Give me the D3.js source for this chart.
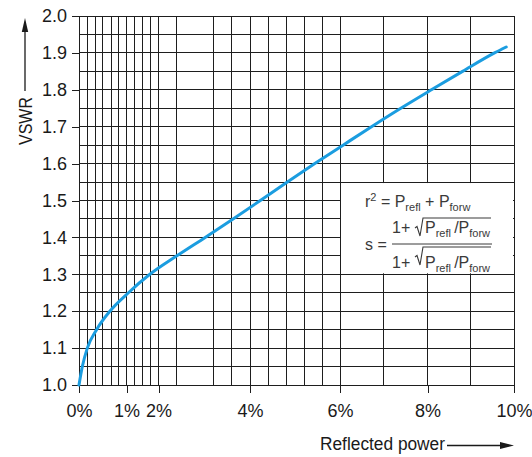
<!DOCTYPE html>
<html>
<head>
<meta charset="utf-8">
<script src="https://cdn.jsdelivr.net/npm/d3@7"></script>
<style>
  body { margin: 0; background: #fff; }
  svg { display: block; }
</style>
</head>
<body>
<svg width="532" height="457"></svg>
<script>
// reflected power (%) where the curve crosses each VSWR grid line
var powerPct = [0, 0.07, 0.175, 0.37, 0.65, 1.06, 1.73, 2.4, 3.02, 3.63, 4.23, 4.83, 5.44, 6.07, 6.72, 7.39, 8.09, 8.81, 9.55, 9.82];
var vswr = [1.0, 1.05, 1.1, 1.15, 1.2, 1.25, 1.3, 1.35, 1.4, 1.45, 1.5, 1.55, 1.6, 1.65, 1.7, 1.75, 1.8, 1.85, 1.9, 1.916];

var xTicks = [0, 1, 2, 4, 6, 8, 10];
var xTickLabels = ['0%', '1%', '2%', '4%', '6%', '8%', '10%'];
var xGrid = [0, 0.17, 0.34, 0.5, 0.68, 0.84, 1, 1.25, 1.5, 1.75, 2, 2.4, 3.2, 3.6, 4, 4.4, 4.8, 5.2, 5.6, 6, 7, 8, 9, 10];

var yTicks = [1.0, 1.1, 1.2, 1.3, 1.4, 1.5, 1.6, 1.7, 1.8, 1.9, 2.0];
var yTickLabels = ['1.0', '1.1', '1.2', '1.3', '1.4', '1.5', '1.6', '1.7', '1.8', '1.9', '2.0'];
var yGrid = [1.0, 1.05, 1.1, 1.15, 1.2, 1.25, 1.3, 1.35, 1.4, 1.45, 1.5, 1.55, 1.6, 1.65, 1.7, 1.75, 1.8, 1.85, 1.9, 1.95, 2.0];

// formula box sits over the grid between these values
var boxPct = [6, 10];
var boxVswr = [1.3, 1.55];

var app = {
    left: 79,
    top: 16,
    width: 435,
    height: 369,
    font: "'Liberation Sans', Arial, sans-serif",
    ink: '#1a1a1a',
    blue: '#1b9de0'
}

var svg = d3.select('svg');
var g = svg.append('g').attr('transform', 'translate(' + app.left + ',' + app.top + ')');

// x axis is stretched near zero, so a piecewise linear scale
var x = d3.scaleLinear()
    .domain(xTicks)
    .range([0, 47.5, 79.5, 171, 261, 348.5, app.width]);

var y = d3.scaleLinear()
    .domain([1, 2])
    .range([app.height, 0]);

function drawGrid() {
    g.append('g').selectAll('line')
        .data(xGrid)
        .enter().append('line')
        .attr('x1', function(d) { return x(d) })
        .attr('x2', function(d) { return x(d) })
        .attr('y1', 0)
        .attr('y2', app.height);

    g.append('g').selectAll('line')
        .data(yGrid)
        .enter().append('line')
        .attr('x1', 0)
        .attr('x2', app.width)
        .attr('y1', function(d) { return y(d) })
        .attr('y2', function(d) { return y(d) });

    g.selectAll('line')
        .style('stroke', '#1e1e1e')
        .style('stroke-width', '1px')
        .style('shape-rendering', 'crispEdges');
}

function drawAxes() {
    var yAxis = d3.axisLeft(y)
        .tickValues(yTicks)
        .tickSize(7)
        .tickPadding(5)
        .tickFormat(function(d, i) { return yTickLabels[i] });

    var xAxis = d3.axisBottom(x)
        .tickValues(xTicks)
        .tickSize(8)
        .tickPadding(11)
        .tickFormat(function(d, i) { return xTickLabels[i] });

    var ya = g.append('g').call(yAxis);
    var xa = g.append('g').attr('transform', 'translate(0,' + app.height + ')').call(xAxis);

    [ya, xa].forEach(function(a) {
        a.select('.domain').remove();
        a.selectAll('line').style('stroke', '#1e1e1e').style('shape-rendering', 'crispEdges');
        a.selectAll('text')
            .style('font-family', app.font)
            .style('font-size', '18px')
            .style('fill', app.ink);
    });
}

function drawFormulaBox() {
    g.append('rect')
        .attr('x', x(boxPct[0]) + 1)
        .attr('y', y(boxVswr[1]) + 1)
        .attr('width', x(boxPct[1]) - x(boxPct[0]) - 2)
        .attr('height', y(boxVswr[0]) - y(boxVswr[1]) - 2)
        .style('fill', '#fff');
}

function drawCurve() {
    var line = d3.line()
        .x(function(d) { return x(d[0]) })
        .y(function(d) { return y(d[1]) })
        .curve(d3.curveMonotoneX);

    g.append('path')
        .datum(d3.zip(powerPct, vswr))
        .attr('d', line)
        .style('fill', 'none')
        .style('stroke', app.blue)
        .style('stroke-width', '3px')
        .style('stroke-linecap', 'round');
}

// text runs with sub/superscripts
function addRun(parent, px, py, parts) {
    var t = parent.append('text')
        .attr('x', px)
        .attr('y', py)
        .style('font-family', app.font)
        .style('font-size', '16px')
        .style('fill', '#3a3a3a');
    var shift = 0;
    parts.forEach(function(p) {
        var want = p.sub ? 4 : (p.sup ? -6 : 0);
        t.append('tspan')
            .attr('dy', want - shift)
            .style('font-size', (p.sub || p.sup) ? '11px' : '16px')
            .text(p.t);
        shift = want;
    });
    return t;
}

function radical(parent, px, ov, len) {
    parent.append('path')
        .attr('d', 'M' + (px - 8) + ',' + (ov + 10) + 'L' + (px - 6) + ',' + (ov + 8.5) +
            'L' + (px - 3) + ',' + (ov + 18) + 'L' + px + ',' + ov + 'H' + (px + len))
        .style('fill', 'none')
        .style('stroke', '#3a3a3a')
        .style('stroke-width', '1.1px');
}

function drawFormula() {
    var f = svg.append('g');
    var ratio = [{ t: 'P' }, { t: 'refl', sub: true }, { t: '\u2009/P' }, { t: 'forw', sub: true }];

    addRun(f, 365, 207, [{ t: 'r' }, { t: '2', sup: true }, { t: ' = P' }, { t: 'refl', sub: true }, { t: ' + P' }, { t: 'forw', sub: true }]);
    addRun(f, 365, 250, [{ t: 's =' }]);

    // numerator
    addRun(f, 392, 233, [{ t: '1+' }]);
    radical(f, 423, 218, 68);
    addRun(f, 425, 233, ratio);

    f.append('line')
        .attr('x1', 392).attr('x2', 492)
        .attr('y1', 244).attr('y2', 244)
        .style('stroke', '#3a3a3a').style('stroke-width', '1px');

    // denominator
    addRun(f, 392, 268, [{ t: '1+' }]);
    radical(f, 423, 247, 68);
    addRun(f, 425, 268, ratio);
}

function drawTitles() {
    svg.append('text')
        .attr('transform', 'translate(31.5,121) rotate(-90)')
        .attr('text-anchor', 'middle')
        .attr('textLength', 48)
        .attr('lengthAdjust', 'spacingAndGlyphs')
        .style('font-family', app.font)
        .style('font-size', '18px')
        .style('fill', app.ink)
        .text('VSWR');

    svg.append('line')
        .attr('x1', 25).attr('y1', 91).attr('x2', 25).attr('y2', 28)
        .style('stroke', app.ink).style('stroke-width', '1.3px');
    svg.append('path')
        .attr('d', 'M25,18L28.2,32L21.8,32Z')
        .style('fill', app.ink);

    svg.append('text')
        .attr('x', 320)
        .attr('y', 450)
        .attr('textLength', 125)
        .attr('lengthAdjust', 'spacingAndGlyphs')
        .style('font-family', app.font)
        .style('font-size', '18px')
        .style('fill', app.ink)
        .text('Reflected power');

    svg.append('line')
        .attr('x1', 447).attr('y1', 445.5).attr('x2', 504).attr('y2', 445.5)
        .style('stroke', app.ink).style('stroke-width', '1.3px');
    svg.append('path')
        .attr('d', 'M514,445.5L500,442L500,449Z')
        .style('fill', app.ink);
}

drawGrid();
drawAxes();
drawFormulaBox();
drawCurve();
drawFormula();
drawTitles();
</script>
</body>
</html>
